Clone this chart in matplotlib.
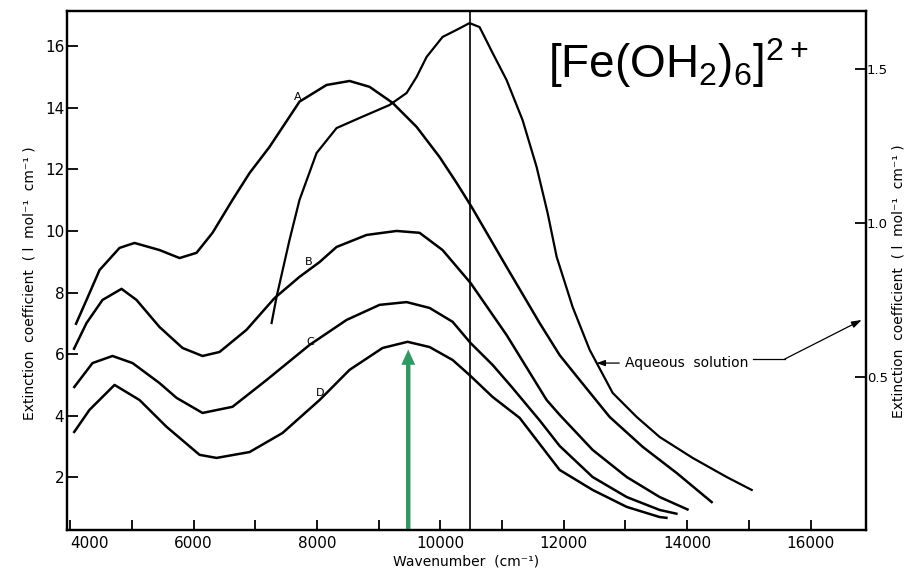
import matplotlib.pyplot as plt

plt.rcParams['font.family'] = ['DejaVu Sans']
plt.rcParams['mathtext.fontset'] = 'custom'
plt.rcParams['mathtext.rm'] = 'Liberation Sans'
plt.rcParams['mathtext.it'] = 'Liberation Sans'
plt.rcParams['mathtext.default'] = 'rm'

# curves: wavenumber (cm-1) vs extinction coefficient (left axis)
a_x = [4088, 4266, 4477, 4801, 5044, 5449, 5774, 6049, 6308, 6632, 6908, 7232, 7718,
       8156, 8529, 8853, 9226, 9615, 9988, 10264, 10507, 11074, 11609, 11933, 12258,
       12744, 13279, 13830, 14413]
a_y = [6.95, 7.76, 8.73, 9.45, 9.61, 9.38, 9.12, 9.29, 9.94, 11.01, 11.88, 12.73, 14.2,
       14.74, 14.87, 14.68, 14.16, 13.38, 12.40, 11.56, 10.78, 8.83, 7.01, 5.97, 5.16,
       3.96, 2.99, 2.14, 1.17]

b_x = [4055, 4266, 4525, 4833, 5076, 5449, 5822, 6146, 6422, 6859, 7313, 7718, 8043,
       8318, 8804, 9291, 9663, 10036, 10490, 11074, 11723, 11933, 12468, 13020, 13554,
       14024]
b_y = [6.14, 7.01, 7.76, 8.12, 7.76, 6.88, 6.20, 5.94, 6.07, 6.79, 7.82, 8.51, 8.99,
       9.48, 9.87, 10.0, 9.94, 9.38, 8.31, 6.62, 4.51, 4.03, 2.89, 2.01, 1.36, 0.94]

c_x = [4055, 4363, 4687, 5012, 5449, 5725, 6146, 6632, 7184, 7881, 8480, 9015, 9453,
       9826, 10199, 10490, 10847, 11150, 11609, 11933, 12468, 13020, 13554, 13846]
c_y = [4.90, 5.71, 5.94, 5.71, 5.06, 4.58, 4.09, 4.29, 5.16, 6.30, 7.11, 7.60, 7.69,
       7.50, 7.05, 6.36, 5.65, 4.95, 3.85, 3.02, 2.01, 1.36, 0.94, 0.81]

d_x = [4055, 4314, 4720, 5125, 5563, 6098, 6373, 6908, 7443, 8043, 8529, 9064, 9469,
       9826, 10199, 10474, 10847, 11285, 11933, 12468, 13020, 13554, 13684]
d_y = [3.44, 4.19, 5.00, 4.51, 3.64, 2.73, 2.63, 2.82, 3.44, 4.51, 5.49, 6.20, 6.40,
       6.23, 5.81, 5.32, 4.61, 3.93, 2.24, 1.59, 1.04, 0.71, 0.68]

# aqueous solution, right axis
aq_x = [7265, 7346, 7556, 7718, 7994, 8318, 8691, 9177, 9453, 9615, 9777, 10036, 10264,
        10474, 10636, 10847, 11074, 11333, 11560, 11739, 11885, 12144, 12420, 12793,
        13182, 13554, 14089, 14640, 15046]
aq_y = [0.675, 0.760, 0.945, 1.075, 1.227, 1.308, 1.341, 1.383, 1.422, 1.474, 1.539,
        1.604, 1.627, 1.649, 1.636, 1.552, 1.464, 1.334, 1.182, 1.032, 0.890, 0.727,
        0.588, 0.448, 0.370, 0.305, 0.237, 0.175, 0.133]

x_major = [4000, 6000, 8000, 10000, 12000, 14000, 16000]
x_minor = [5000, 7000, 9000, 11000, 13000, 15000]
y_left = [2, 4, 6, 8, 10, 12, 14, 16]
y_right = [0.5, 1.0, 1.5]
y_right_labels = ['0.5', '1.0', '1.5']

ylab = 'Extinction  coefficient  ( l  mol⁻¹  cm⁻¹ )'

fig = plt.figure(figsize=(9.07, 5.74), dpi=100)
ax = fig.add_axes([0.0739, 0.0767, 0.881, 0.904])

for xs, ys in [(a_x, a_y), (b_x, b_y), (c_x, c_y), (d_x, d_y)]:
    ax.plot(xs, ys, color='black', lw=1.8, solid_capstyle='butt')

ax.set_xlim(3950, 16900)
ax.set_ylim(0.29, 17.14)

ax.axvline(10480, color='black', lw=1.2)

ax2 = ax.twinx()
ax2.plot(aq_x, aq_y, color='black', lw=1.6)
ax2.set_ylim(0.003, 1.688)

# ticks
ax.set_xticks(x_major)
ax.set_xticks(x_minor, minor=True)
ax.set_yticks(y_left)
ax.set_yticklabels([str(v) for v in y_left])
ax2.set_yticks(y_right)
ax2.set_yticklabels(y_right_labels)
ax.tick_params(axis='both', which='both', direction='in', labelsize=11, width=1.3)
ax.tick_params(axis='x', which='both', length=7, pad=4)
ax.tick_params(axis='y', length=8, pad=2)
ax2.tick_params(axis='y', direction='in', length=8, width=1.3, labelsize=9.5, pad=0.5)
ax.get_xticklabels()[0].set_horizontalalignment('left')

for a in (ax, ax2):
    for s in a.spines.values():
        s.set_linewidth(1.6)

ax.set_xlabel('Wavenumber  (cm⁻¹)', fontsize=10, labelpad=3)
fig.text(30 / 907, 0.507, ylab, fontsize=10, rotation=90, ha='center', va='center')
fig.text(899 / 907, 0.51, ylab, fontsize=10, rotation=90, ha='center', va='center')

# curve letters
ax.text(7686, 14.35, 'A', fontsize=8, ha='center', va='center')
ax.text(7864, 8.99, 'B', fontsize=8, ha='center', va='center')
ax.text(7897, 6.40, 'C', fontsize=8, ha='center', va='center')
ax.text(8059, 4.74, 'D', fontsize=8, ha='center', va='center')

# aqueous solution note
ax.text(12985, 5.71, 'Aqueous  solution', fontsize=10, ha='left', va='center')
ax.annotate('', xy=(12533, 5.71), xytext=(12900, 5.71),
            arrowprops=dict(arrowstyle='-|>,head_length=0.5,head_width=0.18',
                            color='black', lw=0.9, shrinkA=0, shrinkB=0))
ax.plot([15060, 15581], [5.84, 5.84], color='black', lw=0.9)
ax.annotate('', xy=(16829, 7.11), xytext=(15581, 5.84),
            arrowprops=dict(arrowstyle='-|>,head_length=0.6,head_width=0.2',
                            color='black', lw=0.9, shrinkA=0, shrinkB=0))

# green marker arrow
ax.annotate('', xy=(9480, 6.15), xytext=(9480, 0.29),
            arrowprops=dict(arrowstyle='simple,head_length=1.1,head_width=1.0,tail_width=0.32',
                            fc='#2e9a62', ec='none', lw=0, shrinkA=0, shrinkB=0))

fig.text(0.604, 0.864, '[Fe(OH$_2$)$_6$]$^{2+}$', fontsize=33,
         family='Liberation Sans', ha='left', va='baseline')

fig.savefig('out.png', dpi=100)
